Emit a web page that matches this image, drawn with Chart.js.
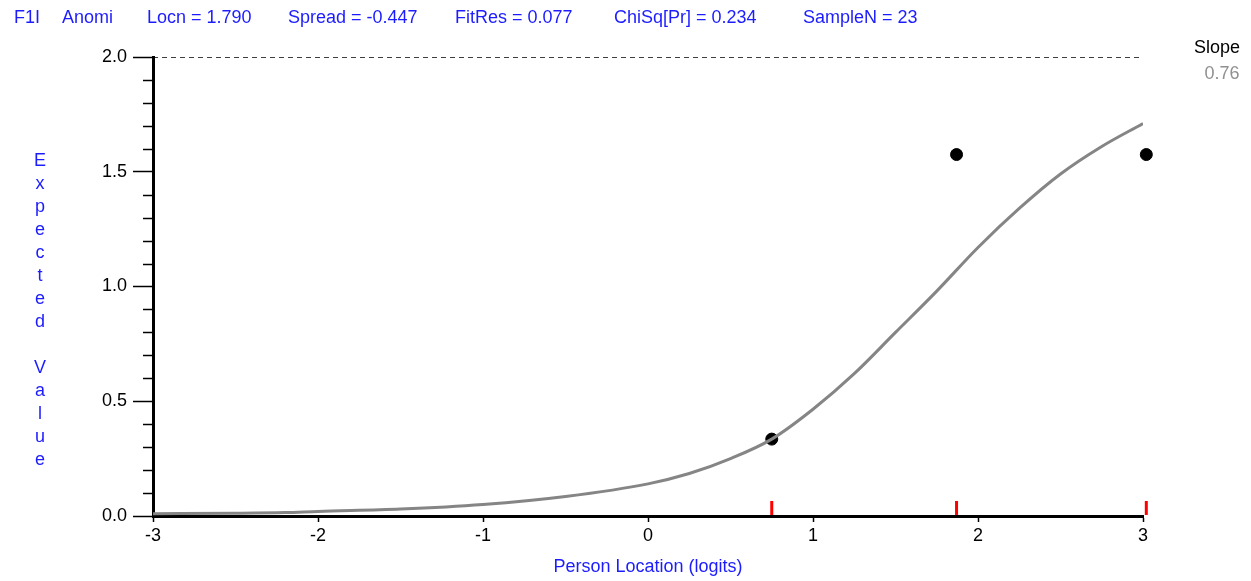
<!DOCTYPE html>
<html>
<head>
<meta charset="utf-8">
<script src="https://cdn.jsdelivr.net/npm/chart.js@4/dist/chart.umd.min.js"></script>
<style>
  html, body { margin: 0; padding: 0; background: #fff; }
  #wrap { width: 1251px; height: 581px; position: relative; }
</style>
</head>
<body>
<div id="wrap"><canvas id="iccChart" width="1251" height="581"></canvas></div>
<script>
"use strict";

// Data
const curveX = [-3, -2.5, -2.2, -2, -1.5, -1, -0.5, 0, 0.25, 0.5, 0.75, 1, 1.25, 1.5, 1.75, 2, 2.25, 2.5, 2.75, 3];
const curveY = [0.01, 0.012, 0.015, 0.02, 0.03, 0.05, 0.085, 0.14, 0.185, 0.25, 0.335, 0.465, 0.62, 0.80, 0.98, 1.17, 1.34, 1.49, 1.61, 1.71];
const obsX = [0.75, 1.87, 3.02];
const obsY = [0.335, 1.575, 1.575];
const xTicks = [-3, -2, -1, 0, 1, 2, 3];
const yTicks = [0, 0.5, 1.0, 1.5, 2.0];
const headerParts = ["F1I", "Anomi", "Locn = 1.790", "Spread = -0.447", "FitRes = 0.077", "ChiSq[Pr] = 0.234", "SampleN = 23"];
const slopeValue = "0.76";

const FONT = "'Liberation Sans', Arial, sans-serif";
const BLUE = "#1c1cff";

// Header / side labels drawn on the canvas
const labelsPlugin = {
    id: "labels",
    afterDraw(chart) {
        const c = chart.ctx;
        const area = chart.chartArea;
        const yScale = chart.scales.y;
        c.save();
        // minor y ticks every 0.1
        c.strokeStyle = "#000";
        c.lineWidth = 1.5;
        for (let i = 0; i <= 20; i++) {
            if (i % 5 === 0) continue;
            const py = Math.round(yScale.getPixelForValue(i / 10)) + 0.5;
            c.beginPath();
            c.moveTo(area.left - 10, py);
            c.lineTo(area.left, py);
            c.stroke();
        }
        // header line
        c.font = "18px " + FONT;
        c.fillStyle = BLUE;
        c.textBaseline = "middle";
        c.textAlign = "left";
        const headerX = [14, 62, 147, 288, 455, 614, 803];
        headerParts.forEach((t, i) => c.fillText(t, headerX[i], 18));
        // y axis title, one letter per line
        const letters = "Expected Value".split("");
        c.textAlign = "center";
        letters.forEach((ch, i) => c.fillText(ch, 40, 161 + i * 23));
        // slope
        c.fillStyle = "#000";
        c.fillText("Slope", 1217, 48);
        c.fillStyle = "#909090";
        c.fillText(slopeValue, 1222, 74);
        c.restore();
    }
};

const ctx = document.getElementById("iccChart").getContext("2d");

new Chart(ctx, {
    type: "scatter",
    data: {
        datasets: [
            {
                label: "top",
                data: [{ x: -3, y: 2 }, { x: 3, y: 2 }],
                showLine: true,
                borderColor: "#000",
                borderWidth: 1.5,
                borderDash: [5, 4],
                pointRadius: 0
            },
            {
                label: "ICC",
                data: curveX.map((x, i) => ({ x: x, y: curveY[i] })),
                showLine: true,
                borderColor: "#858585",
                borderWidth: 3,
                pointRadius: 0,
                cubicInterpolationMode: "monotone"
            },
            {
                label: "observed",
                data: obsX.map((x, i) => ({ x: x, y: obsY[i] })),
                backgroundColor: "#000",
                borderColor: "#000",
                pointRadius: 6,
                clip: false
            },
            {
                label: "class marks",
                data: obsX.map(x => ({ x: x, y: 0.035 })),
                pointStyle: "line",
                rotation: 90,
                pointRadius: 7,
                borderColor: "#ff0000",
                borderWidth: 3,
                clip: false
            }
        ]
    },
    options: {
        responsive: false,
        animation: false,
        events: [],
        layout: { padding: { top: 57, right: 108, left: 0, bottom: 0 } },
        plugins: {
            legend: { display: false },
            tooltip: { enabled: false },
            title: { display: false }
        },
        scales: {
            x: {
                type: "linear",
                min: -3,
                max: 3,
                afterFit(scale) { scale.height = 65; },
                afterBuildTicks(scale) { scale.ticks = xTicks.map(v => ({ value: v })); },
                border: { color: "#000", width: 3 },
                grid: { drawOnChartArea: false, color: "#000", tickLength: 6, tickWidth: 1.5 },
                ticks: { color: "#000", font: { family: FONT, size: 18 }, padding: 3 },
                title: {
                    display: true,
                    text: "Person Location (logits)",
                    color: BLUE,
                    font: { family: FONT, size: 18 },
                    padding: { top: 0, bottom: 3 }
                }
            },
            y: {
                type: "linear",
                min: 0,
                max: 2,
                afterFit(scale) { scale.width = 153; },
                afterBuildTicks(scale) { scale.ticks = yTicks.map(v => ({ value: v })); },
                border: { color: "#000", width: 3 },
                grid: { drawOnChartArea: false, color: "#000", tickLength: 20, tickWidth: 1.5 },
                ticks: {
                    color: "#000",
                    font: { family: FONT, size: 18 },
                    padding: 6,
                    callback: v => Number(v).toFixed(1)
                }
            }
        }
    },
    plugins: [labelsPlugin]
});
</script>
</body>
</html>
